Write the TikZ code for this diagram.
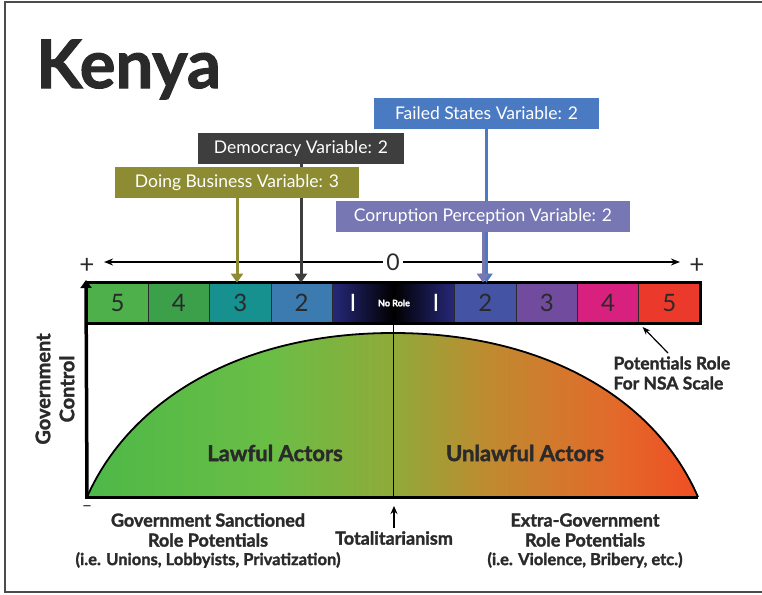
\documentclass[tikz,border=0pt]{standalone}
\usepackage{fontspec}
\setmainfont{Lato}
\newfontfamily\heavyfont[BoldFeatures={FakeBold=1.6}]{Lato}
\usetikzlibrary{arrows.meta,positioning}

\definecolor{fivegreen}{HTML}{4DB04A}
\definecolor{fourgreen}{HTML}{3C9F4A}
\definecolor{threeteal}{HTML}{17918F}
\definecolor{twoblue}{HTML}{3C7BAF}
\definecolor{navy}{HTML}{26287A}
\definecolor{twoindigo}{HTML}{4553A4}
\definecolor{threepurple}{HTML}{704B9E}
\definecolor{fourpink}{HTML}{D8207F}
\definecolor{fivered}{HTML}{EB3A2B}
\definecolor{failedblue}{HTML}{4A7BC2}
\definecolor{corrlav}{HTML}{7777B3}
\definecolor{demogray}{HTML}{3E3E3E}
\definecolor{busolive}{HTML}{8D8C32}
\definecolor{inkgray}{HTML}{2A2A2A}

\pgfdeclarehorizontalshading{actors}{100bp}{color(0bp)=({rgb,255:red,77;green,184;blue,72});
    color(25bp)=({rgb,255:red,77;green,184;blue,72}); color(40bp)=({rgb,255:red,106;green,190;blue,69});
    color(50bp)=({rgb,255:red,143;green,170;blue,58}); color(58bp)=({rgb,255:red,192;green,138;blue,48});
    color(68bp)=({rgb,255:red,226;green,106;blue,42}); color(75bp)=({rgb,255:red,240;green,78;blue,35});
    color(100bp)=({rgb,255:red,240;green,78;blue,35})}

\begin{document}
\begin{tikzpicture}[x=1pt, y=-1pt,
    cell/.style={draw=inkgray, line width=0.8pt, fill=#1, minimum width=61.3pt,
        minimum height=40pt, inner sep=0pt, text=inkgray, font=\fontsize{24}{24}\selectfont},
    varbox/.style={fill=#1, text=white, minimum height=31pt, inner sep=0pt,
        font=\fontsize{17.5}{20}\selectfont},
    varline/.style={draw=#1, line width=3pt, -{Triangle[width=12pt,length=9pt]}},
    heavy/.style={font=\fontsize{18}{20}\heavyfont\bfseries\selectfont, text=inkgray, align=center},
    smallheavy/.style={font=\fontsize{16.5}{20}\heavyfont\bfseries\selectfont, text=inkgray}]

\useasboundingbox (0,0) rectangle (762,594);
\draw[gray!60!black, line width=1.2pt] (762,2) -- (5,2) -- (5,592) -- (762,592);

% title
\node[anchor=base west, inner sep=0pt, font=\fontsize{67}{67}\heavyfont\bfseries\selectfont, text=inkgray]
    (title) at (36,88) {Kenya};

% the role scale
\node[cell=fivegreen] (L5) at (117.65,303) {5};
\node[cell=fourgreen] (L4) at (178.95,303) {4};
\node[cell=threeteal] (L3) at (240.25,303) {3};
\node[cell=twoblue] (L2) at (301.55,303) {2};
\node[draw=inkgray, line width=0.8pt, left color=navy, right color=navy, middle color=black,
    minimum width=122.6pt, minimum height=40pt, inner sep=0pt] (norole) at (393.5,303) {};
\node[text=white, font=\fontsize{24}{24}\selectfont] (oneL) at (353,303) {I};
\node[text=white, font=\fontsize{24}{24}\selectfont] (oneR) at (436,303) {I};
\node[text=white, font=\fontsize{9}{10}\heavyfont\bfseries\selectfont] (nr) at (394,303) {No Role};
\node[cell=twoindigo] (R2) at (485.45,303) {2};
\node[cell=threepurple] (R3) at (546.75,303) {3};
\node[cell=fourpink] (R4) at (608.05,303) {4};
\node[cell=fivered] (R5) at (669.35,303) {5};
\draw[black, line width=2.5pt] (L5.north west) rectangle (R5.south east);

% zero line
\node[font=\fontsize{23}{23}\selectfont, text=inkgray] (zero) at (393,262) {0};
\node[font=\fontsize{26}{26}\selectfont, text=inkgray] (pl) at (87,266) {+};
\node[font=\fontsize{26}{26}\selectfont, text=inkgray] (pr) at (697,266) {+};
\draw[line width=1.4pt, -{Stealth[length=9pt,width=7pt]}] (zero.west) -- (zero.west -| pl.east)
    [shorten >=6pt];
\draw[line width=1.4pt, -{Stealth[length=9pt,width=7pt]}] (zero.east) -- (zero.east -| pr.west)
    [shorten >=6pt];

% curve of actors
\coordinate (o) at (87,497);
\coordinate (e) at (698,497);
\coordinate (peak) at (393,333);
\shade[shading=actors]
    (o) .. controls (130,400) and (240,333) .. (peak)
    .. controls (546,333) and (656,400) .. (e) -- cycle;
\draw[line width=1.8pt] (o) .. controls (130,400) and (240,333) .. (peak)
    .. controls (546,333) and (656,400) .. (e);
\draw[line width=1.5pt] (norole.south) -- (norole.south |- o);

% axes
\draw[line width=3.5pt, -{Triangle[width=11pt,length=8pt]}] (o) -- (86,280);
\draw[line width=3pt] (85,497) -- (e);

\node[heavy, font=\fontsize{22}{20}\heavyfont\bfseries\selectfont] (lawful) at (275,453) {Lawful Actors};
\node[heavy, font=\fontsize{22}{20}\heavyfont\bfseries\selectfont] (unlawful) at (525,453) {Unlawful Actors};
\node[heavy, rotate=90, font=\fontsize{20}{24}\heavyfont\bfseries\selectfont] (govctl) at (55,389)
    {Government\\Control};

% variables
\node[varbox=failedblue, minimum width=225pt] (failed) at (486.5,113) {Failed States Variable: 2};
\draw[varline=failedblue] (failed.south) -- (failed.south |- R2.north);
\node[varbox=corrlav, minimum width=294pt] (corr) at (483,216.5) {Corruption Perception Variable: 2};
\draw[varline=corrlav] (corr.south) -- (corr.south |- R2.north);
\node[varbox=demogray, minimum width=206pt] (demo) at (301,148.5) {Democracy Variable: 2};
\draw[varline=demogray] (demo.south) -- (demo.south |- L2.north);
\node[varbox=busolive, minimum width=244pt] (bus) at (237,182.5) {Doing Business Variable: 3};
\draw[varline=busolive] (bus.south) -- (bus.south |- L3.north);

% scale label
\node[heavy, align=left, anchor=west, font=\fontsize{17.5}{20}\heavyfont\bfseries\selectfont] (nsa) at (610,373)
    {Potentials Role\\For NSA Scale};
\draw[line width=1.2pt, -{Stealth[length=8pt,width=6pt]}] (668,353) -- (R4.south east) [shorten >=5pt];

% bottom labels
\node[font=\fontsize{18}{18}\selectfont, text=inkgray] (minus) at (87,509) {--};
\node[heavy] (sanct) at (208,530) {Government Sanctioned\\Role Potentials};
\node[smallheavy] (sanctex) at (208,560) {(i.e. Unions, Lobbyists, Privatization)};
\node[heavy] (tot) at (394,538) {Totalitarianism};
\draw[line width=1.5pt, -{Stealth[length=8pt,width=7pt]}] (tot.north) -- (tot.north |- o) [shorten >=9pt];
\node[heavy] (extra) at (585,530) {Extra-Government\\Role Potentials};
\node[smallheavy] (extraex) at (585,560) {(i.e. Violence, Bribery, etc.)};
\end{tikzpicture}
\end{document}
